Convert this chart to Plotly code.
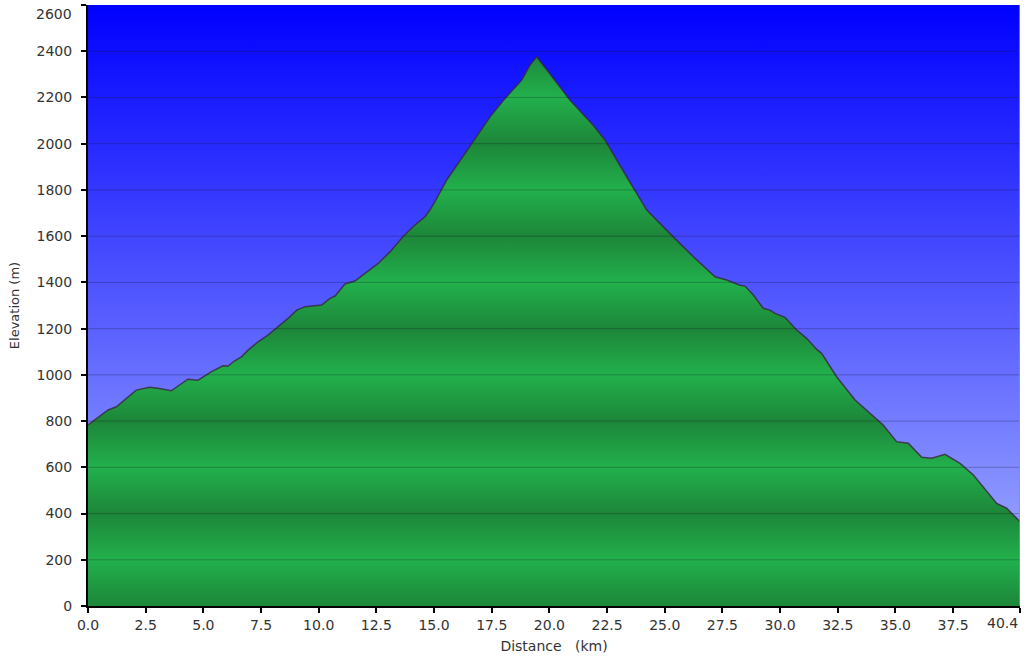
import plotly.graph_objects as go

# ---- data ----
distance_km = [0.0, 0.87, 1.23, 2.09, 2.67, 3.03, 3.61, 4.33, 4.77, 5.34, 5.85, 6.07, 6.36, 6.65,
               6.94, 7.37, 7.80, 8.24, 8.67, 9.05, 9.41, 10.13, 10.49, 10.71, 11.14, 11.57, 12.08,
               12.58, 13.09, 13.67, 14.17, 14.61, 14.82, 15.04, 15.55, 16.04, 16.49, 17.43, 18.08,
               18.80, 19.16, 19.45, 20.17, 20.46, 20.89, 21.90, 22.41, 23.35, 24.00, 24.22, 25.37,
               26.24, 27.18, 27.69, 28.26, 28.48, 28.84, 29.27, 29.56, 29.78, 30.21, 30.72, 31.15,
               31.59, 31.80, 32.45, 33.25, 34.04, 34.47, 35.05, 35.56, 36.14, 36.57, 37.15, 37.80,
               38.38, 39.39, 39.82, 40.4]
elevation_m = [783, 848, 862, 934, 946, 942, 931, 981, 977, 1013, 1039, 1038, 1061, 1078,
               1107, 1143, 1172, 1208, 1244, 1280, 1295, 1302, 1331, 1341, 1393, 1406, 1446,
               1482, 1532, 1600, 1648, 1684, 1713, 1749, 1843, 1915, 1980, 2116, 2196,
               2275, 2340, 2376, 2283, 2246, 2189, 2080, 2016, 1857, 1749, 1713, 1597,
               1511, 1424, 1410, 1388, 1384, 1345, 1288, 1280, 1266, 1249, 1194, 1158,
               1110, 1093, 992, 891, 819, 783, 711, 704, 643, 639, 656, 617,
               567, 444, 423, 365]

x_tickvals = [0.0, 2.5, 5.0, 7.5, 10.0, 12.5, 15.0, 17.5, 20.0, 22.5, 25.0, 27.5, 30.0, 32.5, 35.0, 37.5, 40.4]
x_ticktext = ["0.0", "2.5", "5.0", "7.5", "10.0", "12.5", "15.0", "17.5", "20.0", "22.5", "25.0",
              "27.5", "30.0", "32.5", "35.0", "37.5", "40.4"]
y_tickvals = list(range(0, 2601, 200))
y_ticktext = [str(v) for v in y_tickvals]

x_max = 40.4
y_max = 2600

# ---- styles ----
sky_bottom = "rgb(168,180,255)"
sky_top = "rgb(0,0,255)"
green_dark = "rgb(29,134,57)"
green_light = "rgb(34,176,76)"
font_family = "DejaVu Sans, Verdana, sans-serif"
tick_font = dict(family=font_family, size=14, color="#333333")

# triangle-wave banding: dark at multiples of 400, light at 200 + 400k
band_scale = []
for i, v in enumerate(y_tickvals):
    band_scale.append([v / y_max, green_dark if i % 2 == 0 else green_light])

fig = go.Figure()

# sky background gradient across the plotting area
fig.add_trace(go.Scatter(
    x=[0, x_max], y=[y_max, y_max], mode="lines", line=dict(width=0),
    fill="tozeroy",
    fillgradient=dict(type="vertical", start=0, stop=y_max,
                      colorscale=[[0, sky_bottom], [1, sky_top]]),
    hoverinfo="skip", showlegend=False,
))

# elevation profile
fig.add_trace(go.Scatter(
    x=distance_km, y=elevation_m, mode="lines",
    line=dict(color="rgba(55,40,55,0.8)", width=1.5),
    fill="tozeroy",
    fillgradient=dict(type="vertical", start=0, stop=y_max, colorscale=band_scale),
    showlegend=False,
))

shapes = []
for v in y_tickvals[1:-1]:
    shapes.append(dict(type="line", xref="paper", x0=0, x1=1, yref="y", y0=v, y1=v,
                       line=dict(color="rgba(20,20,40,0.28)", width=1), layer="above"))
# green right border
shapes.append(dict(type="line", xref="x", x0=x_max, x1=x_max, yref="paper", y0=0, y1=1,
                   line=dict(color="rgb(60,200,90)", width=1.5), layer="above"))

# edge labels are nudged inward (as in the reference) so they stay inside the page
annotations = [
    dict(text=x_ticktext[-1], x=x_tickvals[-1], xref="x", y=0, yref="paper",
         xanchor="right", yanchor="top", yshift=-7, showarrow=False, font=tick_font),
    dict(text=y_ticktext[-1], x=0, xref="paper", y=y_tickvals[-1], yref="y",
         xanchor="right", yanchor="top", xshift=-14, yshift=1, showarrow=False, font=tick_font),
]
x_ticktext_axis = x_ticktext[:-1] + [""]
y_ticktext_axis = y_ticktext[:-1] + [""]

fig.update_layout(
    width=1024, height=662,
    margin=dict(l=88, r=4, t=5, b=56, autoexpand=False),
    paper_bgcolor="white", plot_bgcolor="white",
    shapes=shapes, annotations=annotations,
    font=dict(family=font_family, size=14, color="#333333"),
    xaxis=dict(range=[0, x_max], tickvals=x_tickvals, ticktext=x_ticktext_axis, automargin=False,
               showgrid=False, zeroline=False, showline=True, linecolor="black", linewidth=2,
               ticks="outside", ticklen=5, tickwidth=2, tickcolor="black", tickfont=tick_font,
               ticklabeloverflow="allow",
               title=dict(text="Distance\u00a0\u00a0\u00a0(km)", font=dict(size=14), standoff=9)),
    yaxis=dict(range=[0, y_max], tickvals=y_tickvals, ticktext=y_ticktext_axis, automargin=False,
               showgrid=False, zeroline=False, showline=True, linecolor="black", linewidth=2,
               ticks="outside", ticklen=5, tickwidth=2, tickcolor="black", tickfont=tick_font,
               ticklabeloverflow="allow", ticklabelstandoff=6,
               title=dict(text="Elevation (m)", font=dict(size=13), standoff=14)),
)

fig.write_html("out.html", config={"displayModeBar": False},
               post_script="document.body.style.margin='0px';")
